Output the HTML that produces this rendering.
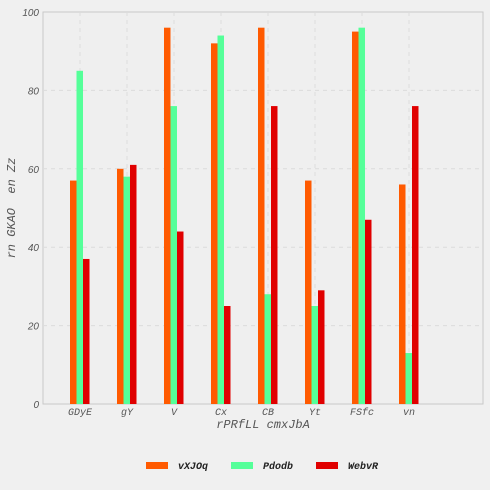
<!DOCTYPE html>
<html><head><meta charset="utf-8"><style>
body{margin:0;background:#f0f0f0;}
svg{display:block;font-family:"Liberation Mono",monospace;}
</style></head><body>
<svg id="c" width="490" height="490"></svg>
<script>
const categories=["GDyE","gY","V","Cx","CB","Yt","FSfc","vn"];
const seriesA=[57,60,96,92,96,57,95,56];
const seriesB=[85,58,76,94,28,25,96,13];
const seriesC=[37,61,44,25,76,29,47,76];
const seriesNames=["vXJOq","Pdodb","WebvR"];
const colors=["#ff5a00","#55ff99","#e00000"];
const yTicks=[0,20,40,60,80,100];
const NS="http://www.w3.org/2000/svg";
const svg=document.getElementById('c');
const L=43,R=483,T=12,B=404;
function y(v){return B-(v/100)*(B-T);}
function xc(i){return 80+i*47;}
function mk(t,a,txt){const e=document.createElementNS(NS,t);for(const k in a)e.setAttribute(k,a[k]);if(txt!==undefined)e.textContent=txt;svg.appendChild(e);return e;}
let e=mk('rect',{x:L,y:T,width:R-L,height:B-T,fill:'#efefef',stroke:'#c8c8c8'});

yTicks.forEach(t=>{
 if(t>0&&t<100){let g=mk('line',{x1:L,x2:R,y1:y(t),y2:y(t),stroke:'#dcdcdc','stroke-dasharray':'4,4'});}
 let l=mk('text',{x:L-4,y:y(t)+4,'text-anchor':'end','font-size':10,'font-style':'italic',fill:'#555','font-family':'Liberation Sans,sans-serif'},t);
 
});
categories.forEach((c,i)=>{
 let g=mk('line',{x1:xc(i),x2:xc(i),y1:T,y2:B,stroke:'#dcdcdc','stroke-dasharray':'4,4'});
 
 let l=mk('text',{x:xc(i),y:B+11,'text-anchor':'middle','font-size':10,'font-style':'italic',fill:'#555'},c);
 
});
[seriesA,seriesB,seriesC].forEach((s,si)=>{
 s.forEach((v,i)=>{
  let b=mk('rect',{x:xc(i)-10+si*6.5,y:y(v),width:6.5,height:B-y(v),fill:colors[si]});
  
  
 });
});
let xt=mk('text',{x:263,y:428,'text-anchor':'middle','font-size':12,'font-style':'italic',fill:'#555'},"rPRfLL cmxJbA");

let yt=mk('text',{x:15,y:208,'text-anchor':'middle','font-size':12,'font-style':'italic',fill:'#555',transform:'rotate(-90 15 208)',style:'white-space:pre'},"rn GKAO  en Zz");

const lx=[146,231,316];
seriesNames.forEach((n,i)=>{
 let r=mk('rect',{x:lx[i],y:462,width:22,height:7,fill:colors[i]});
 
 let t=mk('text',{x:lx[i]+32,y:469,'font-size':10,'font-weight':'bold','font-style':'italic',fill:'#222'},n);
 
});
</script>
</body></html>
